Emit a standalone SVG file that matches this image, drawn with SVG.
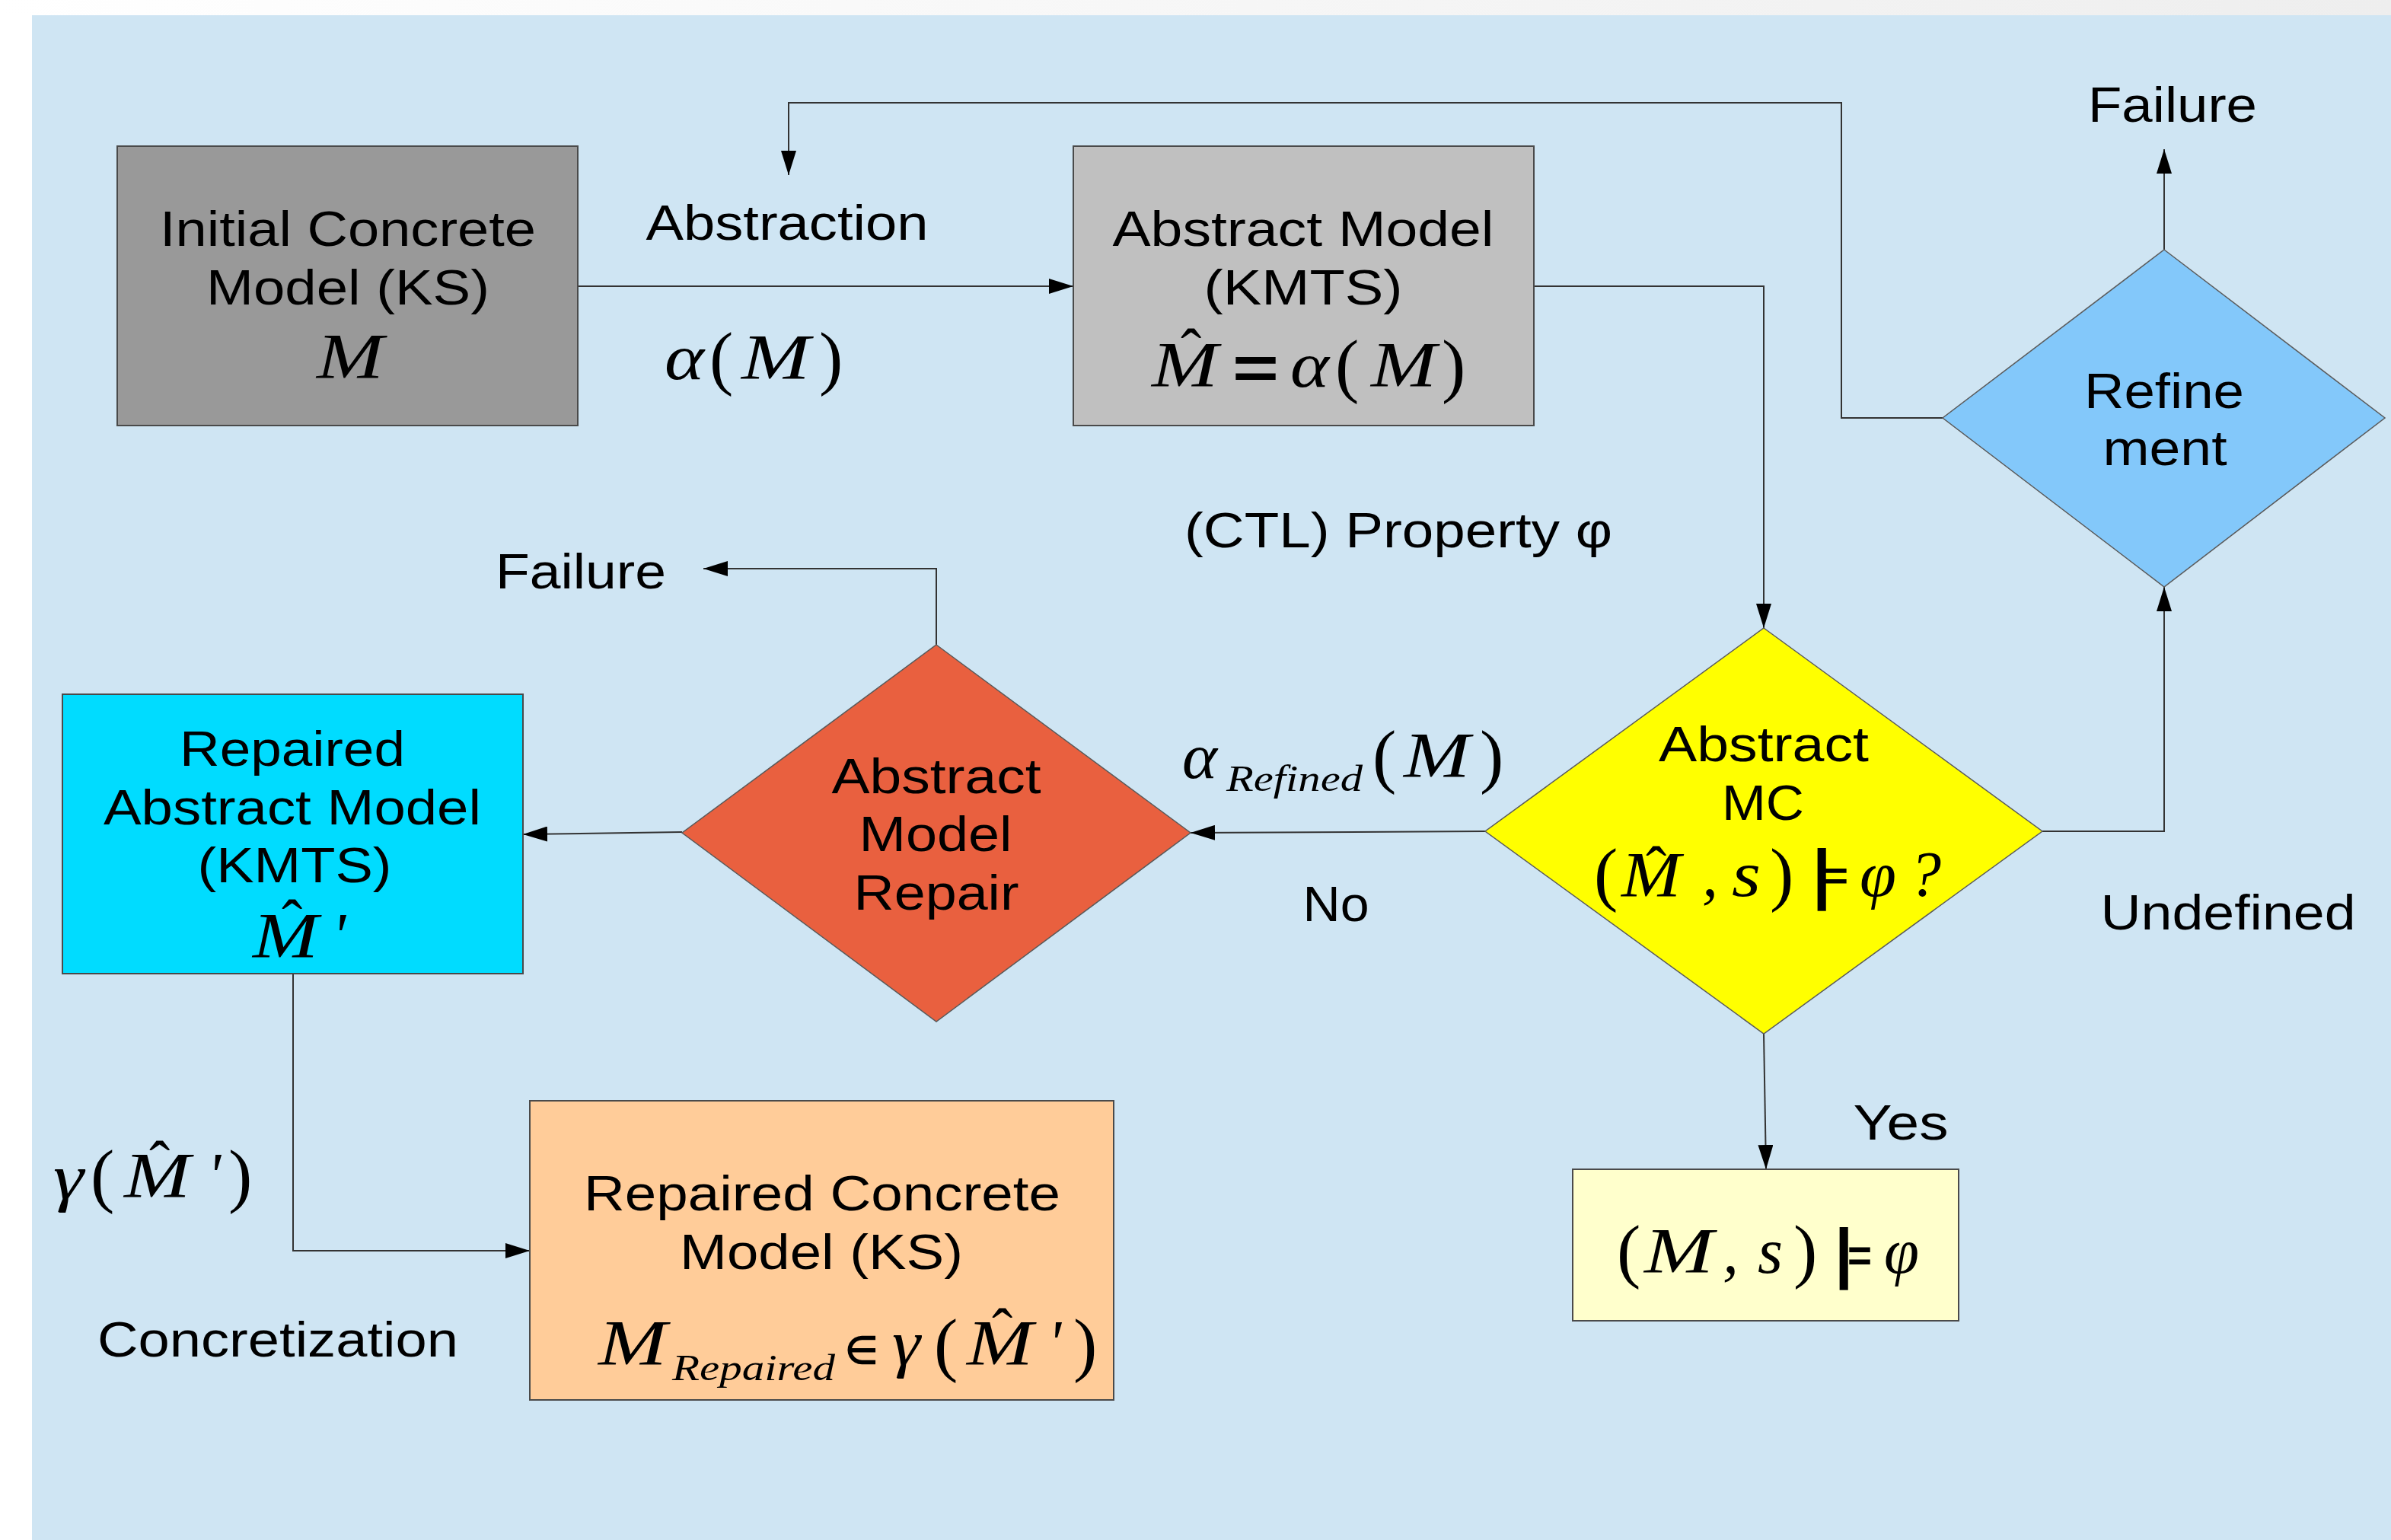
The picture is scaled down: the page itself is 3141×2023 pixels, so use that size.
<svg xmlns="http://www.w3.org/2000/svg" width="3141" height="2023" viewBox="0 0 3141 2023">
<defs>
<linearGradient id="topg" x1="0" y1="0" x2="1" y2="0">
<stop offset="0" stop-color="#ffffff"/><stop offset="1" stop-color="#eeeeee"/>
</linearGradient>
<marker id="ah" markerUnits="userSpaceOnUse" markerWidth="32" markerHeight="20" viewBox="0 0 32 20" refX="32" refY="10" orient="auto">
<path d="M0,0 L32,10 L0,20 z" fill="#000"/>
</marker>
<style>
.s{font-family:"Liberation Sans",Arial,sans-serif;font-size:64px;text-anchor:middle;fill:#000}
.mi{font-family:"Liberation Serif","Times New Roman",serif;font-style:italic;font-size:84px;fill:#000}
.pr{font-family:"Liberation Serif","Times New Roman",serif;font-size:94px;fill:#000}
.hat{font-family:"Liberation Serif","Times New Roman",serif;font-size:82px;font-style:normal;fill:#000}
.sub{font-family:"Liberation Serif","Times New Roman",serif;font-style:italic;font-size:48px;fill:#000}
.bar{font-family:"Liberation Sans",Arial,sans-serif;font-weight:bold;font-size:87px;fill:#000}
.eq{font-family:"Liberation Sans",Arial,sans-serif;font-weight:bold;fill:#000}
.box{stroke:#4a4a4a;stroke-width:2}
.dia{stroke:#5a5a5a;stroke-width:1.5}
.con{fill:none;stroke:#333;stroke-width:2}
</style>
</defs>
<rect x="0" y="0" width="3141" height="20" fill="url(#topg)"/>
<rect x="0" y="20" width="42" height="2003" fill="#ffffff"/>
<rect x="42" y="20" width="3099" height="2003" fill="#cfe5f3"/>

<g id="connectors">
<polyline class="con" points="759,376 1410,376" marker-end="url(#ah)"/>
<polyline class="con" points="2015,376 2317,376 2317,825" marker-end="url(#ah)"/>
<polyline class="con" points="1951,1092 1564,1094" marker-end="url(#ah)"/>
<polyline class="con" points="1230,847 1230,747 924,747" marker-end="url(#ah)"/>
<polyline class="con" points="896,1093 687,1096" marker-end="url(#ah)"/>
<polyline class="con" points="385,1279 385,1643 696,1643" marker-end="url(#ah)"/>
<polyline class="con" points="2317,1358 2320,1536" marker-end="url(#ah)"/>
<polyline class="con" points="2683,1092 2843,1092 2843,771" marker-end="url(#ah)"/>
<polyline class="con" points="2843,328 2843,196" marker-end="url(#ah)"/>
<polyline class="con" points="2552,549 2419,549 2419,135 1036,135 1036,230" marker-end="url(#ah)"/>
</g>

<g id="labels">
<text class="s" x="1034" y="315" textLength="371" lengthAdjust="spacingAndGlyphs">Abstraction</text>
<text><tspan class="mi" x="873" y="498" textLength="52" lengthAdjust="spacingAndGlyphs">α</tspan><tspan class="pr" x="932" y="501">(</tspan><tspan class="mi" x="974" y="498" textLength="90" lengthAdjust="spacingAndGlyphs">M</tspan><tspan class="pr" x="1076" y="501">)</tspan></text>
<text class="s" x="1837" y="719" textLength="562" lengthAdjust="spacingAndGlyphs">(CTL) Property φ</text>
<text class="s" x="763" y="773" textLength="224" lengthAdjust="spacingAndGlyphs">Failure</text>
<text><tspan class="mi" x="1553" y="1022" textLength="46" lengthAdjust="spacingAndGlyphs">α</tspan><tspan class="sub" x="1611" y="1039" textLength="179" lengthAdjust="spacingAndGlyphs">Refined</tspan><tspan class="pr" x="1803" y="1024">(</tspan><tspan class="mi" x="1844" y="1021" textLength="87" lengthAdjust="spacingAndGlyphs">M</tspan><tspan class="pr" x="1944" y="1024">)</tspan></text>
<text class="s" x="1755" y="1210" textLength="87" lengthAdjust="spacingAndGlyphs">No</text>
<text class="s" x="2854" y="160" textLength="222" lengthAdjust="spacingAndGlyphs">Failure</text>
<text class="s" x="2927" y="1221" textLength="335" lengthAdjust="spacingAndGlyphs">Undefined</text>
<text class="s" x="2497" y="1497" textLength="125" lengthAdjust="spacingAndGlyphs">Yes</text>
<text><tspan class="mi" x="70" y="1575" textLength="40" lengthAdjust="spacingAndGlyphs">γ</tspan><tspan class="pr" x="119" y="1575">(</tspan><tspan class="mi" x="163" y="1573" textLength="87" lengthAdjust="spacingAndGlyphs">M</tspan><tspan class="hat" x="196" y="1556">ˆ</tspan><tspan class="mi" x="272" y="1573">'</tspan><tspan class="pr" x="300" y="1575">)</tspan></text>
<text class="s" x="365" y="1782" textLength="474" lengthAdjust="spacingAndGlyphs">Concretization</text>
</g>

<g id="initial-concrete-model">
<rect class="box" x="154" y="192" width="605" height="367" fill="#999999"/>
<text class="s" x="457" y="323" textLength="494" lengthAdjust="spacingAndGlyphs">Initial Concrete</text>
<text class="s" x="457" y="400" textLength="372" lengthAdjust="spacingAndGlyphs">Model (KS)</text>
<text class="mi" x="416" y="497" textLength="88" lengthAdjust="spacingAndGlyphs">M</text>
</g>

<g id="abstract-model">
<rect class="box" x="1410" y="192" width="605" height="367" fill="#c0c0c0"/>
<text class="s" x="1712" y="323" textLength="501" lengthAdjust="spacingAndGlyphs">Abstract Model</text>
<text class="s" x="1712" y="400" textLength="261" lengthAdjust="spacingAndGlyphs">(KMTS)</text>
<text><tspan class="mi" x="1513" y="508" textLength="87" lengthAdjust="spacingAndGlyphs">M</tspan><tspan class="hat" x="1551" y="489">ˆ</tspan><tspan class="eq" x="1619" y="510" font-size="80" textLength="61" lengthAdjust="spacingAndGlyphs">=</tspan><tspan class="mi" x="1695" y="508" textLength="51" lengthAdjust="spacingAndGlyphs">α</tspan><tspan class="pr" x="1754" y="511">(</tspan><tspan class="mi" x="1801" y="508" textLength="86" lengthAdjust="spacingAndGlyphs">M</tspan><tspan class="pr" x="1894" y="511">)</tspan></text>
</g>

<g id="refinement">
<polygon class="dia" points="2843,328 3133,549 2843,771 2552,549" fill="#83c8fa"/>
<text class="s" x="2843" y="536" textLength="210" lengthAdjust="spacingAndGlyphs">Refine</text>
<text class="s" x="2844" y="611" textLength="163" lengthAdjust="spacingAndGlyphs">ment</text>
</g>

<g id="abstract-mc">
<polygon class="dia" points="2317,825 2683,1092 2317,1358 1951,1092" fill="#ffff00"/>
<text class="s" x="2317" y="1000" textLength="276" lengthAdjust="spacingAndGlyphs">Abstract</text>
<text class="s" x="2316" y="1077" textLength="108" lengthAdjust="spacingAndGlyphs">MC</text>
<text><tspan class="pr" x="2094" y="1179">(</tspan><tspan class="mi" x="2130" y="1178" font-size="66" textLength="78" lengthAdjust="spacingAndGlyphs">M</tspan><tspan class="hat" x="2162" y="1169">ˆ</tspan><tspan class="mi" x="2236" y="1177">,</tspan><tspan class="mi" x="2275" y="1177" textLength="38" lengthAdjust="spacingAndGlyphs">s</tspan><tspan class="pr" x="2325" y="1179">)</tspan><tspan class="bar" x="2381" y="1177">|</tspan><tspan class="eq" x="2395" y="1168" font-size="52" textLength="33" lengthAdjust="spacingAndGlyphs">=</tspan><tspan class="mi" x="2443" y="1177" textLength="48" lengthAdjust="spacingAndGlyphs">φ</tspan><tspan class="mi" x="2508" y="1177">?</tspan></text>
</g>

<g id="abstract-model-repair">
<polygon class="dia" points="1230,847 1564,1094 1230,1342 896,1094" fill="#e9603f"/>
<text class="s" x="1230" y="1042" textLength="275" lengthAdjust="spacingAndGlyphs">Abstract</text>
<text class="s" x="1229" y="1118" textLength="201" lengthAdjust="spacingAndGlyphs">Model</text>
<text class="s" x="1230" y="1195" textLength="217" lengthAdjust="spacingAndGlyphs">Repair</text>
</g>

<g id="repaired-abstract-model">
<rect class="box" x="82" y="912" width="605" height="367" fill="#00dcff"/>
<text class="s" x="384" y="1006" textLength="296" lengthAdjust="spacingAndGlyphs">Repaired</text>
<text class="s" x="384" y="1083" textLength="496" lengthAdjust="spacingAndGlyphs">Abstract Model</text>
<text class="s" x="387" y="1159" textLength="255" lengthAdjust="spacingAndGlyphs">(KMTS)</text>
<text><tspan class="mi" x="332" y="1258" textLength="86" lengthAdjust="spacingAndGlyphs">M</tspan><tspan class="hat" x="370" y="1239">ˆ</tspan><tspan class="mi" x="436" y="1258">'</tspan></text>
</g>

<g id="repaired-concrete-model">
<rect class="box" x="696" y="1446" width="767" height="393" fill="#ffcc99"/>
<text class="s" x="1080" y="1590" textLength="626" lengthAdjust="spacingAndGlyphs">Repaired Concrete</text>
<text class="s" x="1079" y="1667" textLength="372" lengthAdjust="spacingAndGlyphs">Model (KS)</text>
<text><tspan class="mi" x="786" y="1793" textLength="90" lengthAdjust="spacingAndGlyphs">M</tspan><tspan class="sub" x="883" y="1813" textLength="214" lengthAdjust="spacingAndGlyphs">Repaired</tspan><tspan class="eq" x="1110" y="1791" font-size="50" font-weight="normal">∈</tspan><tspan class="mi" x="1172" y="1793" textLength="37" lengthAdjust="spacingAndGlyphs">γ</tspan><tspan class="pr" x="1227" y="1797">(</tspan><tspan class="mi" x="1270" y="1793" textLength="87" lengthAdjust="spacingAndGlyphs">M</tspan><tspan class="hat" x="1303" y="1776">ˆ</tspan><tspan class="mi" x="1376" y="1793">'</tspan><tspan class="pr" x="1410" y="1797">)</tspan></text>
</g>

<g id="result-yes">
<rect class="box" x="2066" y="1536" width="507" height="199" fill="#ffffcc"/>
<text><tspan class="pr" x="2124" y="1674">(</tspan><tspan class="mi" x="2160" y="1672" textLength="91" lengthAdjust="spacingAndGlyphs">M</tspan><tspan class="mi" x="2263" y="1672">,</tspan><tspan class="mi" x="2309" y="1672" textLength="33" lengthAdjust="spacingAndGlyphs">s</tspan><tspan class="pr" x="2356" y="1674">)</tspan><tspan class="bar" x="2410" y="1675">|</tspan><tspan class="eq" x="2427" y="1669" font-size="60" textLength="32" lengthAdjust="spacingAndGlyphs">=</tspan><tspan class="mi" x="2475" y="1672" textLength="46" lengthAdjust="spacingAndGlyphs">φ</tspan></text>
</g>
</svg>
